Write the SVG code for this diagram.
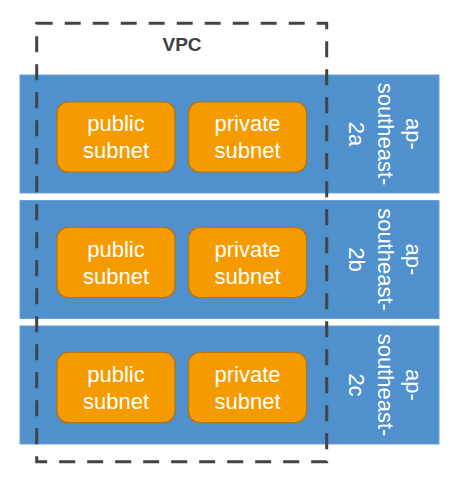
<svg xmlns="http://www.w3.org/2000/svg" width="464" height="479" viewBox="0 0 464 479">
<style>
.az{fill:#4f90cd;stroke:#6d9fcf;stroke-width:1}
.sub{fill:#f59b00;stroke:#b8720c;stroke-width:1.2}
.t{font-family:"Liberation Sans",Arial,sans-serif;font-size:22px;fill:#ffffff;text-anchor:middle}
.vpc{fill:none;stroke:#3f4447;stroke-width:3;stroke-dasharray:16 12}
.vl{font-family:"Liberation Sans",Arial,sans-serif;font-size:19px;font-weight:bold;fill:#404040;text-anchor:middle}
</style>
<rect width="464" height="479" fill="#ffffff"/>
<g id="az-2a">
<rect class="az" x="20" y="75" width="419" height="118"/>
<text class="t" transform="translate(406,134) rotate(90)"><tspan x="0" y="0">ap-</tspan><tspan x="0" y="28.5">southeast-</tspan><tspan x="0" y="57">2a</tspan></text>
</g>
<g id="az-2b">
<rect class="az" x="20" y="200.5" width="419" height="118"/>
<text class="t" transform="translate(406,259.5) rotate(90)"><tspan x="0" y="0">ap-</tspan><tspan x="0" y="28.5">southeast-</tspan><tspan x="0" y="57">2b</tspan></text>
</g>
<g id="az-2c">
<rect class="az" x="20" y="326" width="419" height="118"/>
<text class="t" transform="translate(406,385) rotate(90)"><tspan x="0" y="0">ap-</tspan><tspan x="0" y="28.5">southeast-</tspan><tspan x="0" y="57">2c</tspan></text>
</g>
<g id="pub-2a"><rect class="sub" x="57" y="102" width="118" height="70" rx="11"/><text class="t" x="116" y="131">public</text><text class="t" x="116" y="158">subnet</text></g>
<g id="priv-2a"><rect class="sub" x="188.5" y="102" width="118" height="70" rx="11"/><text class="t" x="247.5" y="131">private</text><text class="t" x="247.5" y="158">subnet</text></g>
<g id="pub-2b"><rect class="sub" x="57" y="227.5" width="118" height="70" rx="11"/><text class="t" x="116" y="256.5">public</text><text class="t" x="116" y="283.5">subnet</text></g>
<g id="priv-2b"><rect class="sub" x="188.5" y="227.5" width="118" height="70" rx="11"/><text class="t" x="247.5" y="256.5">private</text><text class="t" x="247.5" y="283.5">subnet</text></g>
<g id="pub-2c"><rect class="sub" x="57" y="352.5" width="118" height="70" rx="11"/><text class="t" x="116" y="381.5">public</text><text class="t" x="116" y="408.5">subnet</text></g>
<g id="priv-2c"><rect class="sub" x="188.5" y="352.5" width="118" height="70" rx="11"/><text class="t" x="247.5" y="381.5">private</text><text class="t" x="247.5" y="408.5">subnet</text></g>
<g id="vpc">
<rect class="vpc" x="36.7" y="23.3" width="290" height="438.5"/>
<text class="vl" x="182" y="50.5">VPC</text>
</g>
<g id="connectors"></g>
</svg>
